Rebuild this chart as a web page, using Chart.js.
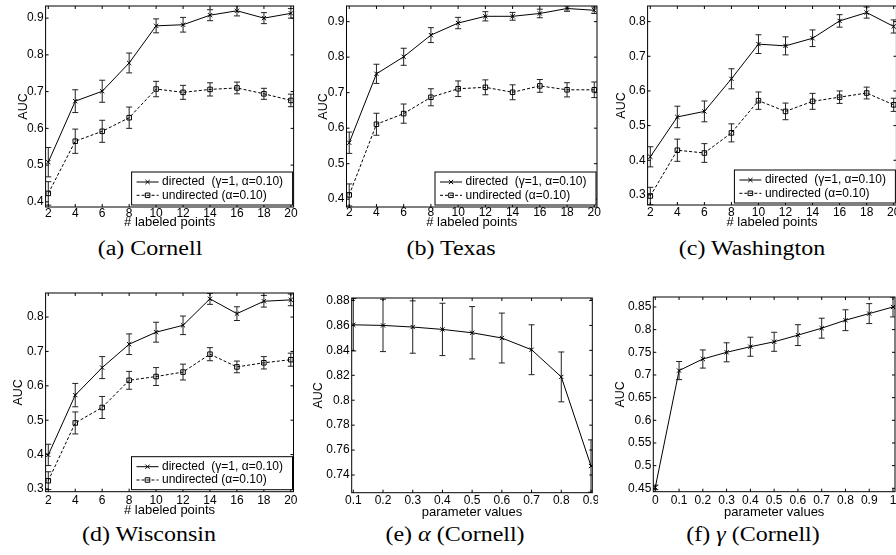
<!DOCTYPE html>
<html>
<head>
<meta charset="utf-8">
<script src="https://cdn.jsdelivr.net/npm/chart.js@4.4.1/dist/chart.umd.min.js"></script>
<style>
    html, body { margin: 0; padding: 0; background: #fff; }
    body { position: relative; width: 896px; height: 555px; overflow: hidden; }
    canvas { position: absolute; }
    .cap {
        position: absolute;
        font-family: "Liberation Serif", "Times New Roman", serif;
        font-size: 20px;
        line-height: 20px;
        white-space: nowrap;
        color: #000;
        transform: translateX(-50%) scaleX(1.2);
    }
</style>
</head>
<body>
<div class="cap" style="left:150px;top:237.5px">(a) Cornell</div>
<div class="cap" style="left:451px;top:237.5px">(b) Texas</div>
<div class="cap" style="left:752px;top:237.5px">(c) Washington</div>
<div class="cap" style="left:149px;top:523.5px">(d) Wisconsin</div>
<div class="cap" style="left:455px;top:523.5px">(e) <i>α</i> (Cornell)</div>
<div class="cap" style="left:753px;top:523.5px">(f) <i>γ</i> (Cornell)</div>

<script>
// x values
const labeledPoints = [2, 4, 6, 8, 10, 12, 14, 16, 18, 20];
const alphaValues = [0.1, 0.2, 0.3, 0.4, 0.5, 0.6, 0.7, 0.8, 0.9];
const gammaValues = [0, 0.1, 0.2, 0.3, 0.4, 0.5, 0.6, 0.7, 0.8, 0.9, 1];

// (a) Cornell
const cornellDirected = [0.508, 0.674, 0.701, 0.778, 0.879, 0.882, 0.908, 0.920, 0.900, 0.913];
const cornellDirectedErr = [0.040, 0.031, 0.030, 0.027, 0.019, 0.020, 0.015, 0.014, 0.015, 0.013];
const cornellUndirected = [0.423, 0.565, 0.592, 0.629, 0.707, 0.698, 0.706, 0.710, 0.694, 0.676];
const cornellUndirectedErr = [0.032, 0.033, 0.030, 0.029, 0.021, 0.019, 0.018, 0.016, 0.015, 0.017];

// (b) Texas
const texasDirected = [0.559, 0.753, 0.801, 0.862, 0.896, 0.915, 0.915, 0.923, 0.937, 0.932];
const texasDirectedErr = [0.030, 0.027, 0.024, 0.021, 0.016, 0.013, 0.011, 0.012, 0.008, 0.009];
const texasUndirected = [0.412, 0.611, 0.641, 0.687, 0.711, 0.715, 0.701, 0.719, 0.708, 0.708];
const texasUndirectedErr = [0.031, 0.031, 0.027, 0.024, 0.022, 0.021, 0.021, 0.018, 0.020, 0.022];

// (c) Washington
const washingtonDirected = [0.410, 0.525, 0.541, 0.635, 0.735, 0.730, 0.752, 0.802, 0.826, 0.786];
const washingtonDirectedErr = [0.029, 0.031, 0.030, 0.029, 0.027, 0.026, 0.024, 0.018, 0.016, 0.019];
const washingtonUndirected = [0.297, 0.429, 0.421, 0.479, 0.572, 0.541, 0.570, 0.582, 0.594, 0.560];
const washingtonUndirectedErr = [0.025, 0.032, 0.027, 0.026, 0.025, 0.024, 0.023, 0.018, 0.017, 0.019];

// (d) Wisconsin
const wisconsinDirected = [0.399, 0.573, 0.653, 0.721, 0.756, 0.776, 0.853, 0.810, 0.846, 0.850];
const wisconsinDirectedErr = [0.031, 0.034, 0.032, 0.030, 0.029, 0.027, 0.016, 0.020, 0.017, 0.017];
const wisconsinUndirected = [0.324, 0.492, 0.537, 0.616, 0.627, 0.640, 0.692, 0.655, 0.667, 0.676];
const wisconsinUndirectedErr = [0.026, 0.032, 0.032, 0.026, 0.026, 0.023, 0.019, 0.017, 0.018, 0.019];

// (e) alpha, (f) gamma on Cornell
const alphaAuc = [0.8605, 0.8600, 0.8587, 0.8568, 0.8541, 0.8499, 0.8405, 0.8187, 0.7472];
const alphaErr = [0.021, 0.021, 0.021, 0.021, 0.021, 0.020, 0.020, 0.020, 0.021];
const gammaAuc = [0.452, 0.7097, 0.7352, 0.750, 0.7623, 0.7732, 0.7879, 0.8032, 0.8208, 0.8354, 0.850];
const gammaErr = [0.005, 0.020, 0.020, 0.021, 0.021, 0.021, 0.023, 0.022, 0.023, 0.022, 0.022];

// tick values
const yTicksCornell = [0.4, 0.5, 0.6, 0.7, 0.8, 0.9];
const yTicksTexas = [0.4, 0.5, 0.6, 0.7, 0.8, 0.9];
const yTicksWashington = [0.3, 0.4, 0.5, 0.6, 0.7, 0.8];
const yTicksWisconsin = [0.3, 0.4, 0.5, 0.6, 0.7, 0.8];
const yTicksAlpha = [0.74, 0.76, 0.78, 0.8, 0.82, 0.84, 0.86, 0.88];
const yTicksGamma = [0.45, 0.5, 0.55, 0.6, 0.65, 0.7, 0.75, 0.8, 0.85];

const labelDirected = "directed  (\u03b3=1, \u03b1=0.10)";
const labelUndirected = "undirected (\u03b1=0.10)";

const FONT = "'Liberation Sans', Arial, Helvetica, sans-serif";
const fmt = v => String(Math.round(v * 1000) / 1000);

// matlab-ish look: error bars, closed box with inward ticks, legend in the corner
const matlabAxes = {
    id: "matlabAxes",
    beforeDatasetsDraw(chart) {
        const { ctx, chartArea: a, scales: { x, y } } = chart;
        ctx.save();
        ctx.beginPath();
        ctx.rect(a.left, a.top, a.right - a.left, a.bottom - a.top);
        ctx.clip();
        ctx.strokeStyle = "#222";
        ctx.lineWidth = 1;
        chart.data.datasets.forEach(ds => {
            ds.data.forEach((p, i) => {
                const e = ds.errors[i];
                const px = x.getPixelForValue(p.x);
                const y1 = y.getPixelForValue(p.y - e);
                const y2 = y.getPixelForValue(p.y + e);
                ctx.beginPath();
                ctx.moveTo(px, y1); ctx.lineTo(px, y2);
                ctx.moveTo(px - 3, y1); ctx.lineTo(px + 3, y1);
                ctx.moveTo(px - 3, y2); ctx.lineTo(px + 3, y2);
                ctx.stroke();
            });
        });
        ctx.restore();
    },
    afterDatasetsDraw(chart) {
        const { ctx, chartArea: a, scales: { x, y } } = chart;
        const tl = 3;
        ctx.save();
        ctx.strokeStyle = "#000";
        ctx.lineWidth = 1;
        ctx.strokeRect(a.left, a.top, a.right - a.left, a.bottom - a.top);
        ctx.beginPath();
        x.ticks.forEach(t => {
            const px = x.getPixelForValue(t.value);
            ctx.moveTo(px, a.bottom); ctx.lineTo(px, a.bottom - tl);
            ctx.moveTo(px, a.top); ctx.lineTo(px, a.top + tl);
        });
        y.ticks.forEach(t => {
            const py = y.getPixelForValue(t.value);
            ctx.moveTo(a.left, py); ctx.lineTo(a.left + tl, py);
            ctx.moveTo(a.right, py); ctx.lineTo(a.right - tl, py);
        });
        ctx.stroke();
        ctx.restore();
    },
    afterDraw(chart, args, opts) {
        if (!opts.legend) return;
        const { ctx, chartArea: a } = chart;
        const w = 161, h = 33;
        const bx = a.right - 1 - w, by = a.bottom - 2 - h;
        ctx.save();
        ctx.fillStyle = "#fff";
        ctx.fillRect(bx, by, w, h);
        ctx.strokeStyle = "#000";
        ctx.lineWidth = 1;
        ctx.strokeRect(bx, by, w, h);
        chart.data.datasets.forEach((ds, i) => {
            const yy = by + 10 + i * 13.3;
            ctx.setLineDash(ds.borderDash || []);
            ctx.beginPath();
            ctx.moveTo(bx + 5, yy);
            ctx.lineTo(bx + 27, yy);
            ctx.stroke();
            ctx.setLineDash([]);
            ctx.fillStyle = "rgba(0,0,0,0)";
            Chart.helpers.drawPoint(ctx, { pointStyle: ds.pointStyle, radius: ds.pointRadius, borderWidth: 1, rotation: 0 }, bx + 16, yy);
            ctx.fillStyle = "#000";
            ctx.font = "12px " + FONT;
            ctx.textBaseline = "middle";
            ctx.textAlign = "left";
            ctx.fillText(ds.label, bx + 30.5, yy);
        });
        ctx.restore();
    }
};

function series(xs, ys, errs, label, dashed) {
    return {
        label: label,
        data: xs.map((x, i) => ({ x: x, y: ys[i] })),
        errors: errs,
        borderColor: "#000",
        borderWidth: 1,
        borderDash: dashed ? [3, 2] : [],
        pointStyle: dashed ? "rect" : "crossRot",
        pointRadius: dashed ? 3.2 : 3,
        pointBorderWidth: 1,
        pointBorderColor: "#000",
        pointBackgroundColor: "rgba(0,0,0,0)",
        tension: 0,
        fill: false
    };
}

const panels = [
    { box: [45.6, 5, 293.6, 207], ax: 23.7, ty: 213.3, tty: 222.5, xr: [1.8, 20.2], yr: [0.386, 0.933],
      xTicks: labeledPoints, yTicks: yTicksCornell, xTitle: "# labeled points", legend: true,
      datasets: [series(labeledPoints, cornellDirected, cornellDirectedErr, labelDirected, false),
                 series(labeledPoints, cornellUndirected, cornellUndirectedErr, labelUndirected, true)] },
    { box: [346.5, 5, 597, 207], ax: 323.8, ty: 212.5, tty: 222.5, xr: [1.8, 20.2], yr: [0.378, 0.944],
      xTicks: labeledPoints, yTicks: yTicksTexas, xTitle: "# labeled points", legend: true,
      datasets: [series(labeledPoints, texasDirected, texasDirectedErr, labelDirected, false),
                 series(labeledPoints, texasUndirected, texasUndirectedErr, labelUndirected, true)] },
    { box: [647.6, 5, 896.4, 205], ax: 621.3, ty: 212.5, tty: 222, xr: [1.8, 20.2], yr: [0.271, 0.845],
      xTicks: labeledPoints, yTicks: yTicksWashington, xTitle: "# labeled points", legend: true,
      datasets: [series(labeledPoints, washingtonDirected, washingtonDirectedErr, labelDirected, false),
                 series(labeledPoints, washingtonUndirected, washingtonUndirectedErr, labelUndirected, true)] },
    { box: [45.6, 292.7, 293.5, 491.7], ax: 18.7, ty: 500.8, tty: 510.8, xr: [1.8, 20.2], yr: [0.292, 0.870],
      xTicks: labeledPoints, yTicks: yTicksWisconsin, xTitle: "# labeled points", legend: true,
      datasets: [series(labeledPoints, wisconsinDirected, wisconsinDirectedErr, labelDirected, false),
                 series(labeledPoints, wisconsinUndirected, wisconsinUndirectedErr, labelUndirected, true)] },
    { box: [351.7, 297.3, 592.3, 492.7], ax: 318.7, ty: 500.5, tty: 512, xr: [0.0946, 0.9044], yr: [0.7258, 0.882],
      xTicks: alphaValues, yTicks: yTicksAlpha, xTitle: "parameter values", legend: false,
      datasets: [series(alphaValues, alphaAuc, alphaErr, "alpha", false)] },
    { box: [653.3, 296, 895, 491.7], ax: 620.7, ty: 500.5, tty: 512.3, xr: [-0.0084, 1.0084], yr: [0.4425, 0.872],
      xTicks: gammaValues, yTicks: yTicksGamma, xTitle: "parameter values", legend: false,
      datasets: [series(gammaValues, gammaAuc, gammaErr, "gamma", false)] }
];

panels.forEach(p => {
    const [L, T, R, B] = p.box;
    const cx = Math.floor(p.ax - 6);
    const cy = Math.floor(T) - 4;
    const xH = p.tty - B + 6.5;
    const cw = Math.ceil(R) + 5 - cx;
    const ch = Math.ceil(B + xH) + 1 - cy;
    const yW = L - cx;
    const tickPad = Math.max(0, p.ty - B - 6);

    const canvas = document.createElement("canvas");
    canvas.width = cw;
    canvas.height = ch;
    canvas.style.left = cx + "px";
    canvas.style.top = cy + "px";
    canvas.style.width = cw + "px";
    canvas.style.height = ch + "px";
    document.body.appendChild(canvas);

    new Chart(canvas.getContext("2d"), {
        type: "line",
        data: { datasets: p.datasets },
        plugins: [matlabAxes],
        options: {
            responsive: false,
            devicePixelRatio: 1,
            animation: false,
            layout: { padding: { left: 0, top: T - cy, right: cx + cw - R, bottom: cy + ch - (B + xH) } },
            plugins: {
                legend: { display: false },
                tooltip: { enabled: false },
                matlabAxes: { legend: p.legend }
            },
            scales: {
                x: {
                    type: "linear",
                    min: p.xr[0],
                    max: p.xr[1],
                    grid: { display: false, drawTicks: false },
                    border: { display: false },
                    ticks: {
                        autoSkip: false, maxRotation: 0, padding: tickPad, color: "#000",
                        font: { family: FONT, size: 12, lineHeight: 1 }, callback: fmt
                    },
                    title: {
                        display: true, text: p.xTitle, color: "#000", padding: 0,
                        font: { family: FONT, size: 13, lineHeight: 1 }
                    },
                    afterBuildTicks: s => { s.ticks = p.xTicks.map(v => ({ value: v })); },
                    afterFit: s => { s.height = xH; s.paddingLeft = 0; s.paddingRight = 0; }
                },
                y: {
                    type: "linear",
                    min: p.yr[0],
                    max: p.yr[1],
                    grid: { display: false, drawTicks: false },
                    border: { display: false },
                    ticks: {
                        autoSkip: false, padding: 2, color: "#000",
                        font: { family: FONT, size: 12, lineHeight: 1 }, callback: fmt
                    },
                    title: {
                        display: true, text: "AUC", color: "#000", padding: 0,
                        font: { family: FONT, size: 12.5, lineHeight: 1 }
                    },
                    afterBuildTicks: s => { s.ticks = p.yTicks.map(v => ({ value: v })); },
                    afterFit: s => { s.width = yW; s.paddingTop = 0; s.paddingBottom = 0; }
                }
            }
        }
    });
});
</script>
</body>
</html>
